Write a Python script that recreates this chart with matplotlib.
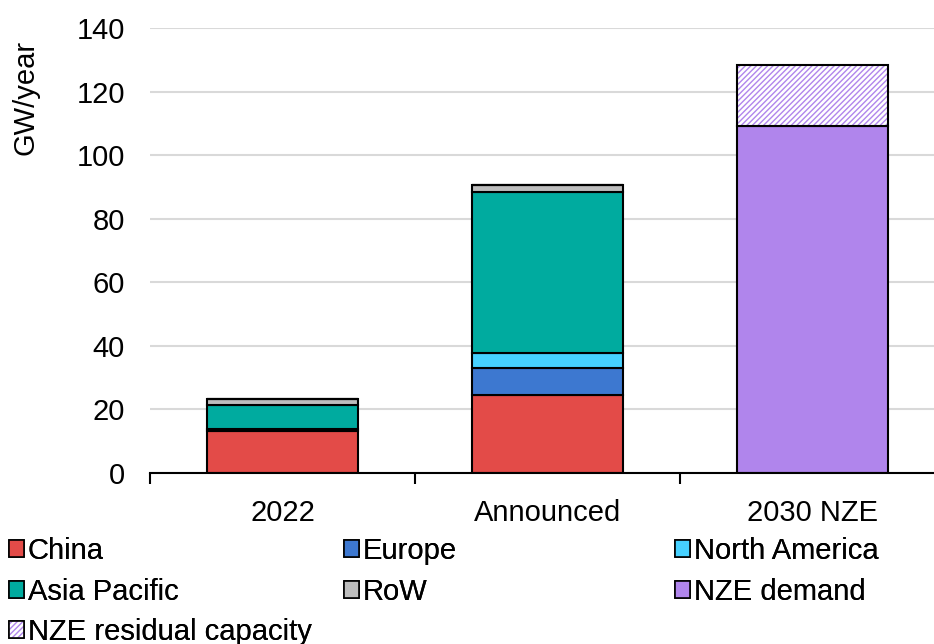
import matplotlib.pyplot as plt
from matplotlib.patches import Patch

plt.rcParams['font.family'] = ['Liberation Sans', 'DejaVu Sans']

CATEGORIES = ["2022", "Announced", "2030 NZE"]
CHINA = [13.3, 24.6, 0]
EUROPE = [0.6, 8.4, 0]
NORTH_AMERICA = [0.0, 4.6, 0]
ASIA_PACIFIC = [7.6, 50.8, 0]
ROW = [1.9, 2.2, 0]
NZE_DEMAND = [0, 0, 109.2]
NZE_RESIDUAL = [0, 0, 19.3]

SERIES = [
    ("China", CHINA, "#E34B48"),
    ("Europe", EUROPE, "#3D78D0"),
    ("North America", NORTH_AMERICA, "#46D1FF"),
    ("Asia Pacific", ASIA_PACIFIC, "#00AB9F"),
    ("RoW", ROW, "#BDBDBD"),
    ("NZE demand", NZE_DEMAND, "#B085EC"),
]
PURPLE = "#B085EC"
WIDTH = 0.57
FS = 21

fig = plt.figure(figsize=(9.34, 6.44), dpi=100)
ax = fig.add_axes([150 / 934, 1 - 473 / 644, 1 - 150 / 934, 445 / 644])

x = list(range(len(CATEGORIES)))
bottom = [0.0] * len(x)
handles = {}
for name, vals, col in SERIES:
    ax.bar(x, vals, WIDTH, bottom=bottom, color=col,
           edgecolor="black", linewidth=1.5, zorder=3)
    handles[name] = Patch(facecolor=col, edgecolor="black", linewidth=1.2)
    bottom = [b + v for b, v in zip(bottom, vals)]

# hatched residual capacity: purple hatch, black outline drawn on top
ax.bar(x, NZE_RESIDUAL, WIDTH, bottom=bottom, color="white",
       edgecolor=PURPLE, hatch="//////", linewidth=0, zorder=3)
ax.bar(x, NZE_RESIDUAL, WIDTH, bottom=bottom, fill=False,
       edgecolor="black", linewidth=1.5, zorder=4)
handles["NZE residual capacity"] = (
    Patch(facecolor="white", edgecolor=PURPLE, hatch="//////", linewidth=0),
    Patch(fill=False, edgecolor="black", linewidth=1.2))

ax.set_yticks(range(0, 141, 20))
ax.set_xticks(x)
ax.set_xticklabels(CATEGORIES)
ax.set_xticks([-0.5, 0.5, 1.5, 2.5], minor=True)
ax.set_ylim(0, 140)
ax.set_xlim(-0.5, 2.5 - 11 / 265)

ax.yaxis.grid(True, color="#D9D9D9", linewidth=1.5, zorder=0)
ax.set_axisbelow(True)
for s in ["left", "right", "top"]:
    ax.spines[s].set_visible(False)
ax.spines["bottom"].set_linewidth(1.5)
ax.spines["bottom"].set_zorder(5)

ax.tick_params(axis="x", which="major", length=0, pad=19, labelsize=FS)
ax.tick_params(axis="x", which="minor", length=8, width=1.5, direction="out")
ax.tick_params(axis="y", length=0, pad=18, labelsize=FS)

fig.text(0.027, 1 - 40 / 644, "GW/year", rotation=90, va="top", ha="center",
         fontsize=FS)

columns = [
    (9, ["China", "Asia Pacific", "NZE residual capacity"]),
    (344, ["Europe", "RoW"]),
    (675, ["North America", "NZE demand"]),
]
for xpos, names in columns:
    leg = fig.legend([handles[n] for n in names], names, loc="upper left",
                     bbox_to_anchor=(xpos / 934, 1 - 537 / 644),
                     frameon=False, fontsize=FS, handlelength=0.5,
                     handleheight=0.5, handletextpad=0.15, labelspacing=0.43,
                     borderaxespad=0, borderpad=0)
    fig.add_artist(leg)

fig.savefig("out.png", dpi=100)
